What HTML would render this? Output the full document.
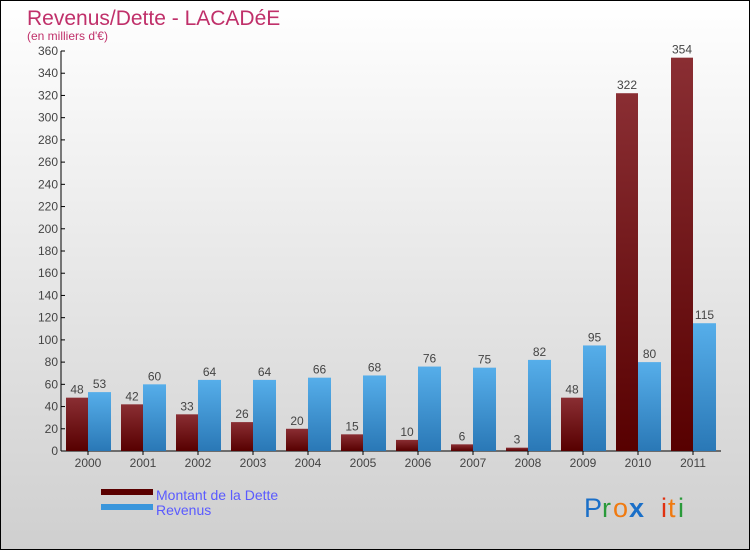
<!DOCTYPE html>
<html><head><meta charset="utf-8"><style>
html,body{margin:0;padding:0}
body{width:750px;height:550px;overflow:hidden;font-family:"Liberation Sans",sans-serif}
#wrap{position:relative;width:748px;height:548px;border:1px solid #000;background:linear-gradient(#fff,#cfcfcf)}
</style></head><body>
<div id="wrap">
<svg id="chart" width="748" height="548">
<defs>
<linearGradient id="gd" x1="0" y1="0" x2="0" y2="1"><stop offset="0" stop-color="#8a2e33"/><stop offset="1" stop-color="#570000"/></linearGradient>
<linearGradient id="gr" x1="0" y1="0" x2="0" y2="1"><stop offset="0" stop-color="#56aeea"/><stop offset="1" stop-color="#2a78b6"/></linearGradient>
</defs>
<text x="26" y="24" font-size="21" fill="#c0306a">Revenus/Dette - LACADéE</text>
<text x="26" y="39" font-size="12" fill="#c0306a">(en milliers d'€)</text>
<g id="axes"></g><g id="bars"></g>
<rect x="100" y="488" width="52" height="6" fill="#5a0000"/>
<rect x="100" y="503" width="52" height="6" fill="#3a96dc"/>
<text x="155" y="499" font-size="14" fill="#5a5aff">Montant de la Dette</text>
<text x="155" y="514" font-size="14" fill="#5a5aff">Revenus</text>
<g font-size="27" font-family="'Liberation Sans',sans-serif">
<text x="583" y="516" fill="#1a6fc8">P</text><text x="601" y="516" fill="#2a9a3a">r</text><text x="612" y="516" fill="#f07a10">o</text><text x="628" y="516" fill="#1a6fc8" font-weight="bold">x</text><text x="660" y="516" fill="#e03010">i</text><text x="667" y="516" fill="#f07a10">t</text><text x="677" y="516" fill="#2a9a3a">i</text>
</g>
</svg></div>
<script>
const years=["2000","2001","2002","2003","2004","2005","2006","2007","2008","2009","2010","2011"];
const dette=[48,42,33,26,20,15,10,6,3,48,322,354];
const revenus=[53,60,64,64,66,68,76,75,82,95,80,115];
const yTicks=[0,20,40,60,80,100,120,140,160,180,200,220,240,260,280,300,320,340,360];
const NS="http://www.w3.org/2000/svg";
const x0=60,cw=55,yb=450,yt=50,ymax=360;
const y=v=>yb-(v/ymax)*(yb-yt);
const xc=i=>x0+cw*i;
function mk(tag,attrs,parent){const e=document.createElementNS(NS,tag);for(const k in attrs)e.setAttribute(k,attrs[k]);parent.appendChild(e);return e;}
const ax=document.getElementById('axes'),bg=document.getElementById('bars');
let l=mk('line',{x1:x0,y1:yt,x2:x0,y2:yb,stroke:'#000'},ax);


l=mk('line',{x1:x0,y1:yb,x2:x0+cw*years.length,y2:yb,stroke:'#000'},ax);


yTicks.forEach(v=>{
  mk('line',{x1:x0,y1:y(v),x2:x0+4,y2:y(v),stroke:'#000'},ax);
  const t=mk('text',{x:x0-3,y:y(v)+4,'font-size':12,fill:'#444','text-anchor':'end'},ax);
  t.textContent=v;
  
  
});
years.forEach((yr,i)=>{
  const b=xc(i);
  mk('line',{x1:b+27,y1:yb,x2:b+27,y2:yb+4,stroke:'#000'},ax);
  const t=mk('text',{x:b+27,y:yb+16,'font-size':12,fill:'#444','text-anchor':'middle'},ax);
  t.textContent=yr;
  
  
  const r1=mk('rect',{x:b+5,y:y(dette[i]),width:22,height:yb-y(dette[i]),fill:'url(#gd)'},bg);
  
  
  const r2=mk('rect',{x:b+27,y:y(revenus[i]),width:23,height:yb-y(revenus[i]),fill:'url(#gr)'},bg);
  
  
  const v1=mk('text',{x:b+16,y:y(dette[i])-4,'font-size':12,fill:'#444','text-anchor':'middle'},bg);
  v1.textContent=dette[i];
  
  
  const v2=mk('text',{x:b+38.5,y:y(revenus[i])-4,'font-size':12,fill:'#444','text-anchor':'middle'},bg);
  v2.textContent=revenus[i];
  
  
});
</script>
</body></html>
